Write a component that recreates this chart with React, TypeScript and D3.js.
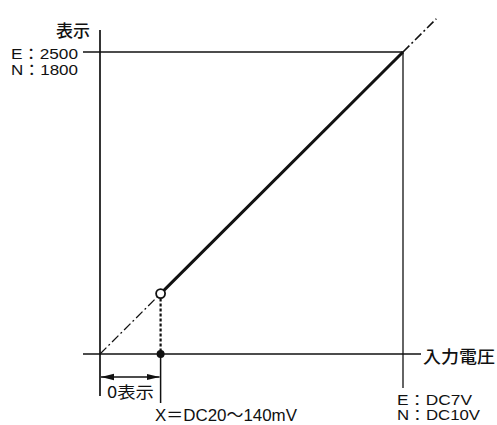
import React from "react";
import * as d3 from "d3";

// normalised input (0 = 0V, 1 = full scale) vs display count
const displayLabels = ["E：2500", "N：1800"];
const inputLabels = ["E：DC7V", "N：DC10V"];
const zeroPoint = 0.2; // 0表示 offset
const lineEnd = 1.11; // dash-dot extension past full scale
const axisTitleY = "表示";
const axisTitleX = "入力電圧";
const zeroLabel = "0表示";
const rangeLabel = "X＝DC20～140mV";

const W = 497;
const H = 425;
const FONT = "'Noto Sans CJK JP', 'DejaVu Sans', sans-serif";
const LATIN = "'Liberation Sans', 'Noto Sans CJK JP', sans-serif";

export default function App() {
  const x = d3.scaleLinear().domain([0, 1]).range([100, 403]);
  const y = d3.scaleLinear().domain([0, 1]).range([354, 52]);
  const line = d3.line<number>().x((d) => x(d)).y((d) => y(d));

  const x0 = x(0);
  const y0 = y(0);
  const xf = x(1);
  const yf = y(1);
  const xz = x(zeroPoint);
  const yz = y(zeroPoint);

  return (
    <svg
      width={W}
      height={H}
      style={{ position: "absolute", left: 0, top: 0, background: "#fff" }}
      fontFamily={FONT}
    >
      <defs>
        <marker id="arr" viewBox="0 0 13 8" refX="13" refY="4" markerWidth="13" markerHeight="8" orient="auto-start-reverse" markerUnits="userSpaceOnUse">
          <path d="M0,0.8 L13,4 L0,7.2 Z" fill="#111" />
        </marker>
      </defs>
      <g stroke="#111" fill="none">
        {/* y axis */}
        <line x1={x0} y1={30} x2={x0} y2={396} strokeWidth={1.7} />
        {/* x axis */}
        <line x1={83} y1={y0} x2={421} y2={y0} strokeWidth={1.7} />
        {/* full scale display */}
        <line x1={83} y1={yf} x2={xf} y2={yf} strokeWidth={1.3} />
        {/* full scale input */}
        <line x1={xf} y1={yf} x2={xf} y2={388} strokeWidth={1.3} />
        {/* zero point vertical */}
        <line x1={xz} y1={y0} x2={xz} y2={403} strokeWidth={1.5} />
        <line x1={xz} y1={yz + 5} x2={xz} y2={y0} strokeWidth={2.2} strokeDasharray="3,2" />
        {/* dimension arrow */}
        <line x1={x0 + 1} y1={377} x2={xz - 1} y2={377} strokeWidth={1.3} markerStart="url(#arr)" markerEnd="url(#arr)" />
        {/* dash-dot extensions */}
        <path d={line([0, zeroPoint]) ?? ""} strokeWidth={1.3} strokeDasharray="9,3,2,3" />
        <path d={line([1, lineEnd]) ?? ""} strokeWidth={1.6} strokeDasharray="9,3,2,3" />
        {/* characteristic */}
        <path d={line([zeroPoint, 1]) ?? ""} strokeWidth={3} />
        <circle cx={xz} cy={yz} r={4.5} fill="#fff" strokeWidth={1.8} />
        <circle cx={xz} cy={y0} r={4} fill="#111" stroke="none" />
      </g>
      <g fill="#111" fontSize={15}>
        <text x={90} y={37} textAnchor="end" fontSize={17} fontWeight={500}>{axisTitleY}</text>
        {displayLabels.map((t, i) => (
          <text key={t} x={11} y={59 + i * 16} fontFamily={LATIN} fontSize={15} textLength={67} lengthAdjust="spacingAndGlyphs">{t}</text>
        ))}
        <text x={423} y={363} fontSize={17} fontWeight={500} textLength={72} lengthAdjust="spacingAndGlyphs">{axisTitleX}</text>
        {inputLabels.map((t, i) => (
          <text key={t} x={397} y={405 + i * 15} fontFamily={LATIN} fontSize={14} textLength={i === 0 ? 75 : 83} lengthAdjust="spacingAndGlyphs">{t}</text>
        ))}
        <text x={107} y={398} fontSize={16} textLength={47} lengthAdjust="spacingAndGlyphs">{zeroLabel}</text>
        <text x={155} y={421} fontFamily={LATIN} fontSize={17} textLength={142} lengthAdjust="spacingAndGlyphs">{rangeLabel}</text>
      </g>
    </svg>
  );
}
